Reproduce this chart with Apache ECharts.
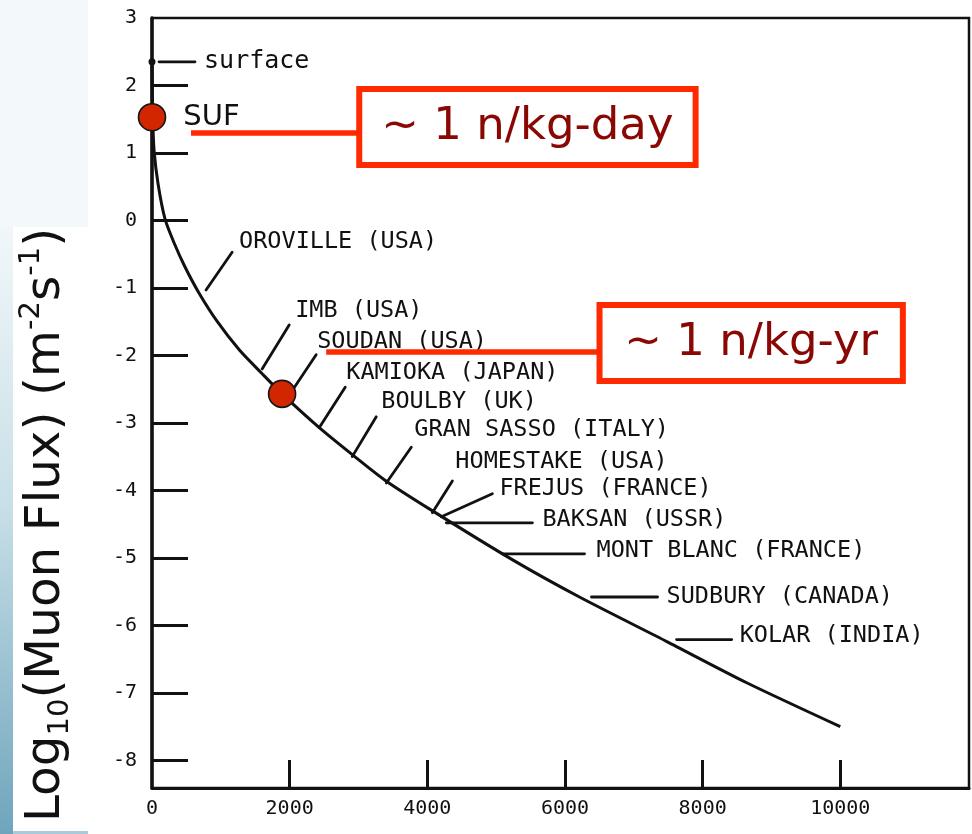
<!DOCTYPE html>
<html>
<head>
<meta charset="utf-8">
<title>Muon flux vs depth</title>
<style>
  html, body { margin: 0; padding: 0; background: #ffffff; }
  #chart { width: 972px; height: 834px; }
</style>
<script src="https://cdn.jsdelivr.net/npm/echarts@6/dist/echarts.min.js"></script>
</head>
<body>
<div id="chart"></div>
<script>
// Muon flux (log10, m^-2 s^-1) against depth in metres water equivalent
const depth   = [0, 10, 30, 90, 190, 320, 480, 680, 950, 1270, 1590, 1890, 2430, 2910, 3400, 4070, 5240, 6210, 7480, 8640, 10000];
const logFlux = [2.35, 1.55, 1.04, 0.53, 0.02, -0.33, -0.69, -1.07, -1.50, -1.92, -2.26, -2.57, -3.07, -3.47, -3.86, -4.30, -5.03, -5.58, -6.24, -6.85, -7.50];

// Highlighted laboratories
const labNames = ['SUF', ''];
const labDepth = [0, 1890];
const labFlux  = [1.53, -2.57];

// Underground sites: leader line start / end and label anchor, in axis units
const siteNames = ['surface', 'OROVILLE (USA)', 'IMB (USA)', 'SOUDAN (USA)', 'KAMIOKA (JAPAN)', 'BOULBY (UK)',
  'GRAN SASSO (ITALY)', 'HOMESTAKE (USA)', 'FREJUS (FRANCE)', 'BAKSAN (USSR)', 'MONT BLANC (FRANCE)',
  'SUDBURY (CANADA)', 'KOLAR (INDIA)'];
const siteFrom = [[102, 2.35], [785, -1.03], [1600, -2.20], [2065, -2.48], [2429, -3.07], [2909, -3.50],
  [3404, -3.89], [4073, -4.33], [4204, -4.39], [4276, -4.48], [5091, -4.94], [6385, -5.58], [7622, -6.21]];
const siteTo = [[625, 2.35], [1164, -0.47], [1993, -1.55], [2385, -1.99], [2807, -2.47], [3258, -2.91],
  [3767, -3.36], [4364, -3.86], [4945, -4.05], [5527, -4.48], [6284, -4.94], [7345, -5.58], [8422, -6.21]];
const siteLabel = [[756, 2.35], [1265, -0.32], [2080, -1.34], [2400, -1.80], [2822, -2.26], [3331, -2.69],
  [3811, -3.10], [4407, -3.58], [5047, -3.98], [5673, -4.44], [6458, -4.90], [7476, -5.58], [8538, -6.16]];

// Neutron background call-outs
const calloutText = ['~ 1 n/kg-day', '~ 1 n/kg-yr'];
const calloutLine = [[567, 3011, 1.296], [2531, 6502, -1.948]];          // x from, x to, y
const calloutBox  = [[3011, 7898, 1.948, 0.822], [6502, 10909, -1.252, -2.378]]; // x0, x1, y0, y1

const xTicks = [0, 2000, 4000, 6000, 8000, 10000];
const yTicks = [-8, -7, -6, -5, -4, -3, -2, -1, 0, 1, 2, 3];
const yInnerTicks = [-8, -7, -6, -5, -4, -3, -2, -1, 0, 1, 2];

const INK = '#111111';
const RED = '#ff2a00';
const scanFont = '"DejaVu Sans Mono", "Liberation Mono", monospace';

const chart = echarts.init(document.getElementById('chart'), null, { renderer: 'canvas' });

function renderSite(params, api) {
  const i = params.dataIndex;
  const a = api.coord([api.value(0), api.value(1)]);
  const b = api.coord([api.value(2), api.value(3)]);
  const t = api.coord([api.value(4), api.value(5)]);
  return {
    type: 'group',
    children: [
      { type: 'line', shape: { x1: a[0], y1: a[1], x2: b[0], y2: b[1] },
        style: { stroke: INK, lineWidth: 2.8, lineCap: 'round' } },
      { type: 'text', x: t[0], y: t[1],
        style: { text: siteNames[i], fill: INK, fontSize: i === 0 ? 25 : 23.5, fontFamily: scanFont,
                 align: 'left', verticalAlign: 'middle' } }
    ]
  };
}

function renderCallout(params, api) {
  const i = params.dataIndex;
  const l0 = api.coord([api.value(0), api.value(2)]);
  const l1 = api.coord([api.value(1), api.value(2)]);
  const p0 = api.coord([api.value(3), api.value(5)]);
  const p1 = api.coord([api.value(4), api.value(6)]);
  const x = Math.min(p0[0], p1[0]), y = Math.min(p0[1], p1[1]);
  const w = Math.abs(p1[0] - p0[0]), h = Math.abs(p1[1] - p0[1]);
  return {
    type: 'group',
    children: [
      { type: 'line', shape: { x1: l0[0], y1: l0[1], x2: l1[0], y2: l1[1] },
        style: { stroke: RED, lineWidth: 5.5 } },
      { type: 'rect', shape: { x: x, y: y, width: w, height: h },
        style: { fill: '#ffffff', stroke: RED, lineWidth: 6 } },
      { type: 'text', x: x + w / 2, y: y + h / 2,
        style: { text: calloutText[i], fill: '#8a0804', fontSize: 45, fontFamily: '"DejaVu Sans", sans-serif',
                 align: 'center', verticalAlign: 'middle' } }
    ]
  };
}

const curveData = depth.map((d, i) => i === 0
  ? { value: [d, logFlux[i]], symbol: 'circle', symbolSize: 7, itemStyle: { color: INK } }
  : [d, logFlux[i]]);

const option = {
  animation: false,
  backgroundColor: '#ffffff',
  grid: { left: 152, right: 3, top: 18, bottom: 46, show: true, borderColor: INK, borderWidth: 2.5 },
  xAxis: {
    type: 'value', min: 0, max: 11870,
    axisLine: { show: true, onZero: false, lineStyle: { color: INK, width: 3 } },
    axisTick: { show: true, inside: true, length: 28, customValues: xTicks.slice(1), lineStyle: { color: INK, width: 3 } },
    axisLabel: { customValues: xTicks, margin: 11, color: INK, fontSize: 20, fontFamily: scanFont,
                 formatter: v => String(v) },
    splitLine: { show: false }
  },
  yAxis: {
    type: 'value', min: -8.41, max: 3,
    axisLine: { show: true, onZero: false, lineStyle: { color: INK, width: 3.5 } },
    axisTick: { show: true, inside: true, length: 36, customValues: yInnerTicks, lineStyle: { color: INK, width: 3 } },
    axisLabel: { customValues: yTicks, margin: 15, color: INK, fontSize: 20, fontFamily: scanFont,
                 formatter: v => String(v) },
    splitLine: { show: false }
  },
  graphic: [
    { type: 'rect', z: -10, shape: { x: 0, y: 0, width: 88, height: 227 }, style: { fill: '#f3f8fa' } },
    { type: 'rect', z: -10, shape: { x: 0, y: 227, width: 13, height: 607 },
      style: { fill: new echarts.graphic.LinearGradient(0, 0, 0, 1, [
        { offset: 0, color: '#f1f7f9' }, { offset: 0.45, color: '#c9e0e8' }, { offset: 1, color: '#6fa5bc' }]) } },
    { type: 'rect', z: -10, shape: { x: 13, y: 831, width: 75, height: 3 }, style: { fill: '#a9cad8' } },
    { type: 'text', x: 46, y: 525, rotation: Math.PI / 2,
      style: {
        text: '{a|Log}{b|10}{a|(Muon Flux) (m}{c|-2}{a|s}{c|-1}{a|)}',
        align: 'center', verticalAlign: 'middle', fill: '#111',
        rich: {
          a: { fontSize: 48.5, lineHeight: 58, fontFamily: '"DejaVu Sans", sans-serif', fill: '#111', verticalAlign: 'middle' },
          b: { fontSize: 29, lineHeight: 29, fontFamily: '"DejaVu Sans", sans-serif', fill: '#111', verticalAlign: 'bottom' },
          c: { fontSize: 29, lineHeight: 29, fontFamily: '"DejaVu Sans", sans-serif', fill: '#111', verticalAlign: 'top' }
        }
      } }
  ],
  series: [
    {
      name: 'muon flux', type: 'line', data: curveData,
      symbol: 'none', smooth: 0.25,
      lineStyle: { color: INK, width: 3 }, z: 3
    },
    {
      name: 'sites', type: 'custom', renderItem: renderSite, clip: false, z: 4,
      data: siteNames.map((n, i) => [siteFrom[i][0], siteFrom[i][1], siteTo[i][0], siteTo[i][1], siteLabel[i][0], siteLabel[i][1]])
    },
    {
      name: 'callouts', type: 'custom', renderItem: renderCallout, clip: false, z: 5,
      data: calloutText.map((t, i) => [calloutLine[i][0], calloutLine[i][1], calloutLine[i][2],
        calloutBox[i][0], calloutBox[i][1], calloutBox[i][2], calloutBox[i][3]])
    },
    {
      name: 'labs', type: 'scatter', z: 6,
      data: labNames.map((n, i) => ({ name: n, value: [labDepth[i], labFlux[i]] })),
      symbol: 'circle', symbolSize: 27,
      itemStyle: { color: '#d22600', borderColor: '#151515', borderWidth: 1.6, opacity: 1 },
      label: { show: true, position: 'right', distance: 17, formatter: p => p.name,
               color: '#111', fontSize: 29, fontFamily: '"DejaVu Sans", sans-serif' }
    }
  ]
};

chart.setOption(option);
</script>
</body>
</html>
